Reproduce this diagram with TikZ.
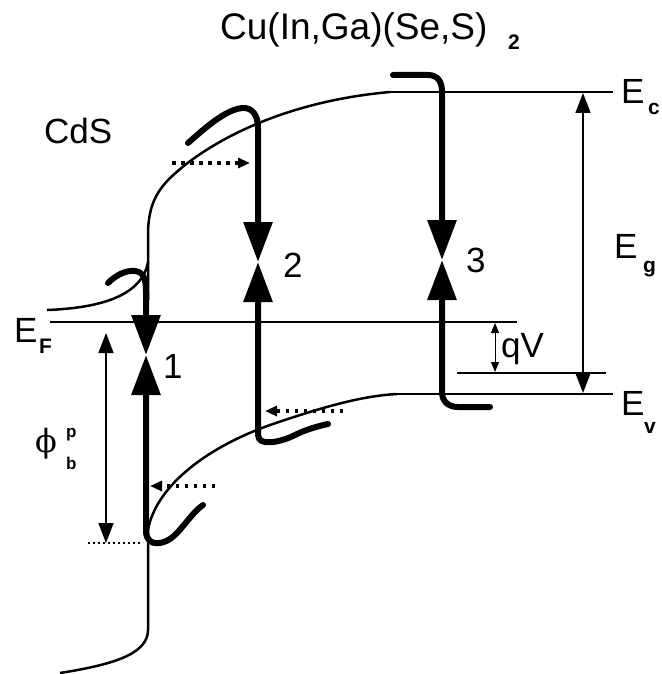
\documentclass[tikz,border=0pt]{standalone}
\usepackage{fontspec}
\setmainfont{Liberation Sans}
\newfontfamily\phifont{DejaVu Serif}
\usetikzlibrary{arrows.meta}
\begin{document}
\begin{tikzpicture}[x=1pt,y=-1pt,
  band/.style={line width=2.5pt},
  level/.style={line width=2pt},
  thickarr/.style={line width=6pt, line cap=round, -{Triangle[length=40pt,width=28pt]}},
  dotarr/.style={line width=3.5pt, dash pattern=on 3.5pt off 5.5pt, -{Triangle[length=12pt,width=10pt]}},
  dimarr/.style={line width=1.5pt, {Triangle[length=20pt,width=15pt]}-{Triangle[length=20pt,width=15pt]}},
  smallarr/.style={line width=1pt, {Triangle[length=10pt,width=8pt]}-{Triangle[length=10pt,width=8pt]}},
  lab/.style={font=\fontsize{35}{40}\selectfont, inner sep=0pt, anchor=base west},
  sub/.style={font=\fontsize{21}{24}\selectfont\bfseries, inner sep=0pt, anchor=base west}
]
\useasboundingbox (0,0) rectangle (661,674);

% coordinates
\coordinate (ecL) at (390,92);
\coordinate (ecR) at (613,92);
\coordinate (evL) at (397,394);
\coordinate (evR) at (613,394);
\coordinate (efL) at (50,322);
\coordinate (efR) at (517,322);
\coordinate (fnL) at (457,373);
\coordinate (fnR) at (606,373);
\coordinate (m1) at (146,355);
\coordinate (m2) at (258,262);
\coordinate (m3) at (442,260);

% bands
\draw[band] (148,300) -- (148,235) .. controls (148,197) and (163,183) .. (185,165)
  .. controls (230,130) and (300,100) .. (ecL);
\draw[level] (ecL) -- (ecR);
\draw[band] (47,310) .. controls (100,308) and (142,296) .. (148,262);
\draw[band] (60,673) .. controls (110,665) and (148,655) .. (148,630) -- (148,530)
  .. controls (155,490) and (200,450) .. (270,425)
  .. controls (320,408) and (360,396) .. (evL);
\draw[level] (evL) -- (evR);
\draw[level] (efL) -- (efR);
\draw[level] (fnL) -- (fnR);

% thick transition arrows
\draw[thickarr] (108,283) .. controls (115,276) and (125,270) .. (135,271)
  .. controls (144,272) and (146,280) .. (146,292) -- (m1);
\draw[thickarr] (203,505) .. controls (193,512) and (185,525) .. (175,535)
  .. controls (165,545) and (147,548) .. (146,532) -- (m1);
\draw[thickarr] (188,143) .. controls (205,128) and (225,110) .. (242,108)
  .. controls (252,107) and (258,115) .. (258,128) -- (m2);
\draw[thickarr] (328,424) .. controls (318,426) and (305,430) .. (295,435)
  .. controls (283,441) and (272,443) .. (265,442)
  .. controls (259,441) and (258,438) .. (258,432) -- (m2);
\draw[thickarr] (393,75) -- (428,75) .. controls (438,75) and (442,82) .. (442,92) -- (m3);
\draw[thickarr] (490,407) -- (458,407) .. controls (447,407) and (442,400) .. (442,392) -- (m3);

% dotted tunnelling arrows
\coordinate (d1s) at (172,163); \coordinate (d1e) at (250,163);
\coordinate (d2s) at (343,411); \coordinate (d2e) at (265,411);
\coordinate (d3s) at (215,486); \coordinate (d3e) at (150,486);
\draw[dotarr] (d1s) -- (d1e);
\draw[dotarr] (d2s) -- (d2e);
\draw[dotarr] (d3s) -- (d3e);

% dimension arrows
\coordinate (egT) at (583,93); \coordinate (egB) at (583,393);
\draw[dimarr] (egT) -- (egB);
\coordinate (qvT) at (495,323); \coordinate (qvB) at (495,372);
\draw[smallarr] (qvT) -- (qvB);
\coordinate (phT) at (106,333); \coordinate (phB) at (106,543);
\draw[dimarr] (phT) -- (phB);
\coordinate (dlL) at (88,543); \coordinate (dlR) at (143,543);
\draw[line width=1.5pt, dash pattern=on 2pt off 3pt] (dlL) -- (dlR);

% labels
\node[lab, font=\fontsize{37}{40}\selectfont] (title) at (220,40) {Cu(In,Ga)(Se,S)};
\node[sub] (title2) at (508,50) {2};
\node[lab] (cds) at (44,143) {CdS};
\node[lab] (ec) at (621,103) {E};
\node[sub] (ecs) at (648,114) {c};
\node[lab] (eg) at (614,258) {E};
\node[sub] (egs) at (643,272) {g};
\node[lab] (ev) at (621,415) {E};
\node[sub] (evs) at (644,433) {v};
\node[lab] (ef) at (14,342) {E};
\node[sub] (efs) at (39,353) {F};
\node[font=\fontsize{32}{36}\phifont, inner sep=0pt] (phi) at (46,444) {ϕ};
\node[sub, font=\fontsize{17}{20}\selectfont\bfseries] (php) at (66,437) {p};
\node[sub, font=\fontsize{17}{20}\selectfont\bfseries] (phb) at (66,469) {b};
\node[lab] (n1) at (163,378) {1};
\node[lab] (n2) at (283,277) {2};
\node[lab] (n3) at (466,272) {3};
\node[lab] (qv) at (501,357) {qV};
\end{tikzpicture}
\end{document}
